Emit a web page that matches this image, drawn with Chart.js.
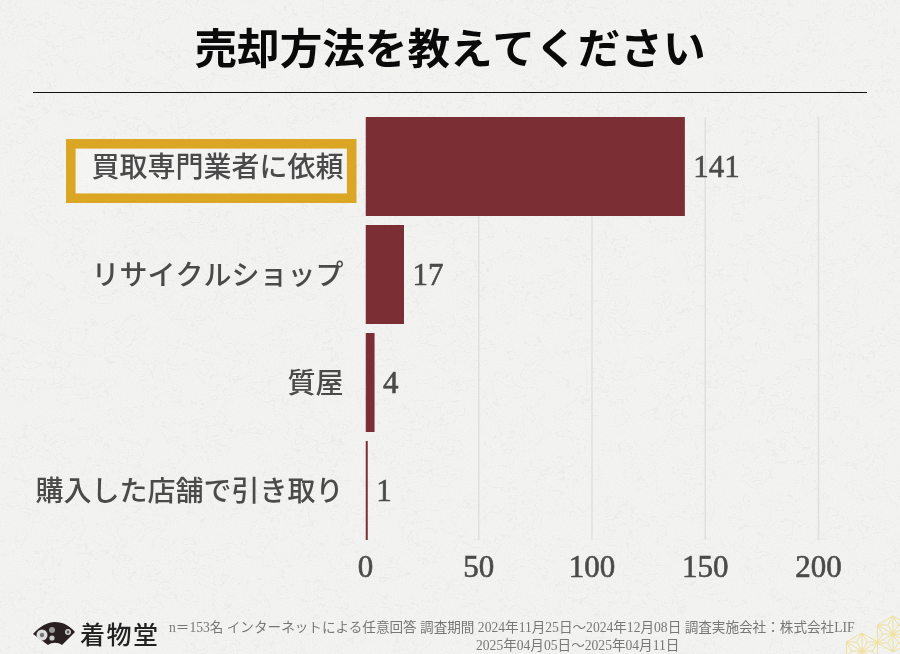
<!DOCTYPE html>
<html lang="ja"><head><meta charset="utf-8">
<script src="https://cdn.jsdelivr.net/npm/chart.js@4"></script>
<style>
html,body{margin:0;padding:0;width:900px;height:654px;overflow:hidden;background:#f3f3f2}
#paper,#deco{position:absolute;left:0;top:0}
#wrap{position:absolute;left:0;top:0;width:900px;height:654px}
.note{position:absolute;font:13.6px "Liberation Serif","Noto Sans CJK JP",serif;color:#777;white-space:pre;line-height:16px}
#brand{position:absolute;left:80px;top:617px;font:500 25px/32px "Noto Sans CJK JP",sans-serif;letter-spacing:1.5px;color:#222}
</style></head><body>
<svg id="paper" width="900" height="654">
<defs>
<filter id="grain" x="0" y="0" width="100%" height="100%"><feTurbulence type="fractalNoise" baseFrequency="0.9" numOctaves="2" seed="4"/><feColorMatrix values="0 0 0 0 0.55 0 0 0 0 0.55 0 0 0 0 0.55 0.5 0 0 0 -0.16"/></filter>
<filter id="fibre" x="0" y="0" width="100%" height="100%"><feTurbulence type="fractalNoise" baseFrequency="0.035 0.05" numOctaves="3" seed="11"/><feColorMatrix values="0 0 0 0 0.6 0 0 0 0 0.6 0 0 0 0 0.6 1 0 0 0 0"/><feComponentTransfer><feFuncA type="discrete" tableValues="0 0 0 0 0 0 0 0 0 0 0 0 0 0 0 0 0 0 0 0 0 0 0 0 0 0 0.14 0 0 0 0 0 0 0 0.14 0 0 0 0 0 0 0 0 0 0 0 0 0 0 0"/></feComponentTransfer></filter>
</defs>
<rect width="900" height="654" fill="#f4f4f3"/>
<rect width="900" height="654" filter="url(#grain)" opacity=".5"/>
<rect width="900" height="654" filter="url(#fibre)" opacity="1"/>
</svg>
<div id="wrap"><canvas id="c" width="900" height="654"></canvas></div>
<svg id="deco" width="900" height="654" style="pointer-events:none">
<g>
<path d="M33 634 C40 626 48 622 55 622 C63 622 70 626 75 632 L62 645 C58 642 52 642 48 645 Z" fill="#2a2022"/>
<circle cx="42" cy="635" r="5.5" fill="#ddd"/><circle cx="42" cy="635" r="2.2" fill="#777"/>
<circle cx="52" cy="630" r="3" fill="#999"/><circle cx="52" cy="638" r="2.6" fill="#ccc"/>
<circle cx="68" cy="632" r="3" fill="#ccc"/><circle cx="68" cy="632" r="1.4" fill="#555"/>
</g>
<g id="asanoha" fill="none" stroke="#efe09a" stroke-width="1"></g>
</svg>
<div id="brand">着物堂</div>
<div class="note" style="left:169px;top:620px">n＝153名 インターネットによる任意回答 調査期間 2024年11月25日～2024年12月08日 調査実施会社：株式会社LIF</div>
<div class="note" style="left:476px;top:638px">2025年04月05日～2025年04月11日</div>
<script>
const categories = ["買取専門業者に依頼","リサイクルショップ","質屋","購入した店舗で引き取り"];
const seriesValues = [141,17,4,1];
const xTicks = [0,50,100,150,200];
const chartTitle = "売却方法を教えてください";
const SERIF = '"Liberation Serif","Noto Sans CJK JP",serif';
const INK = '#4a4a4a';

// decorative gold hemp-leaf corner
const hexCentres = [[893,634],[862,651]];
let hexPath = '';
hexCentres.forEach(([cx,cy])=>{
  const R = 18;
  const v = [...Array(6).keys()].map(i=>{const a=Math.PI/3*i-Math.PI/2;return [cx+R*Math.cos(a),cy+R*Math.sin(a)];});
  v.forEach((p,i)=>{
    const q = v[(i+1)%6];
    const m = [(p[0]+q[0]+cx)/3,(p[1]+q[1]+cy)/3];
    hexPath += `M${p[0]} ${p[1]}L${q[0]} ${q[1]}M${p[0]} ${p[1]}L${cx} ${cy}M${m[0]} ${m[1]}L${p[0]} ${p[1]}M${m[0]} ${m[1]}L${q[0]} ${q[1]}M${m[0]} ${m[1]}L${cx} ${cy}`;
  });
});
document.getElementById('asanoha').innerHTML = `<path d="${hexPath}"/>`;

const decor = {
  id:'decor',
  afterLayout(chart){
    // centre the title on the whole page, not on the padded layout box
    const t = chart.titleBlock;
    if(t){ t.left = 0; t.right = chart.width; t.width = chart.width; }
  },
  beforeDraw(chart){
    const {ctx,scales:{x}} = chart;
    const bars = chart.getDatasetMeta(0).data;
    const top = bars[0].y - bars[0].height/2, bottom = bars[bars.length-1].y + bars[bars.length-1].height/2;
    ctx.save();
    ctx.strokeStyle = '#111'; ctx.lineWidth = 1;
    ctx.beginPath(); ctx.moveTo(33,92.5); ctx.lineTo(867,92.5); ctx.stroke();
    ctx.strokeStyle = '#e0e0e0'; ctx.lineWidth = 1.5;
    xTicks.forEach(v=>{ if(v===0) return; const p=x.getPixelForValue(v); ctx.beginPath(); ctx.moveTo(p,top); ctx.lineTo(p,bottom); ctx.stroke(); });
    ctx.fillStyle = 'rgba(255,255,255,.2)'; ctx.fillRect(66,139,290.5,64);
    ctx.strokeStyle = '#dba624'; ctx.lineWidth = 9.6;
    ctx.strokeRect(70.8,143.8,280.9,54.4);
    ctx.restore();
  },
  afterDatasetsDraw(chart){
    const {ctx} = chart;
    ctx.save();
    ctx.font = '31px '+SERIF; ctx.fillStyle = INK; ctx.strokeStyle = INK; ctx.lineWidth = .6; ctx.textBaseline = 'middle'; ctx.textAlign = 'left';
    chart.getDatasetMeta(0).data.forEach((b,i)=>{ const t=String(seriesValues[i]); ctx.fillText(t, b.x+8.5, b.y+2); ctx.strokeText(t, b.x+8.5, b.y+2); });
    ctx.restore();
  }
};

new Chart(document.getElementById('c'),{
  type:'bar',
  data:{labels:categories,datasets:[{data:seriesValues,backgroundColor:'#7b2e33',borderWidth:0,barPercentage:0.917,categoryPercentage:1}]},
  plugins:[decor],
  options:{
    indexAxis:'y',responsive:false,animation:false,devicePixelRatio:1,
    layout:{padding:{left:0,right:81.5,top:0,bottom:0}},
    plugins:{
      legend:{display:false},tooltip:{enabled:false},
      title:{display:true,text:chartTitle,color:'#0a0a0a',align:'center',
        font:{family:'"Noto Sans CJK JP",sans-serif',size:42.6,weight:'700',lineHeight:1.2},
        padding:{top:22,bottom:39.4}}
    },
    scales:{
      x:{type:'linear',min:0,max:200,
        afterBuildTicks(s){s.ticks=xTicks.map(v=>({value:v}));},
        afterFit(s){s.height=109.5;},
        grid:{display:false},border:{display:false},
        ticks:{color:INK,padding:-2,maxRotation:0,autoSkip:false,textStrokeColor:INK,textStrokeWidth:.6,font:{family:SERIF,size:31}}},
      y:{afterFit(s){s.width=365.5;},
        grid:{display:false},border:{display:false},
        ticks:{color:INK,padding:14,labelOffset:3,autoSkip:false,font:{family:SERIF,size:28,weight:'500'}}}
    }
  }
});
</script>
</body></html>
